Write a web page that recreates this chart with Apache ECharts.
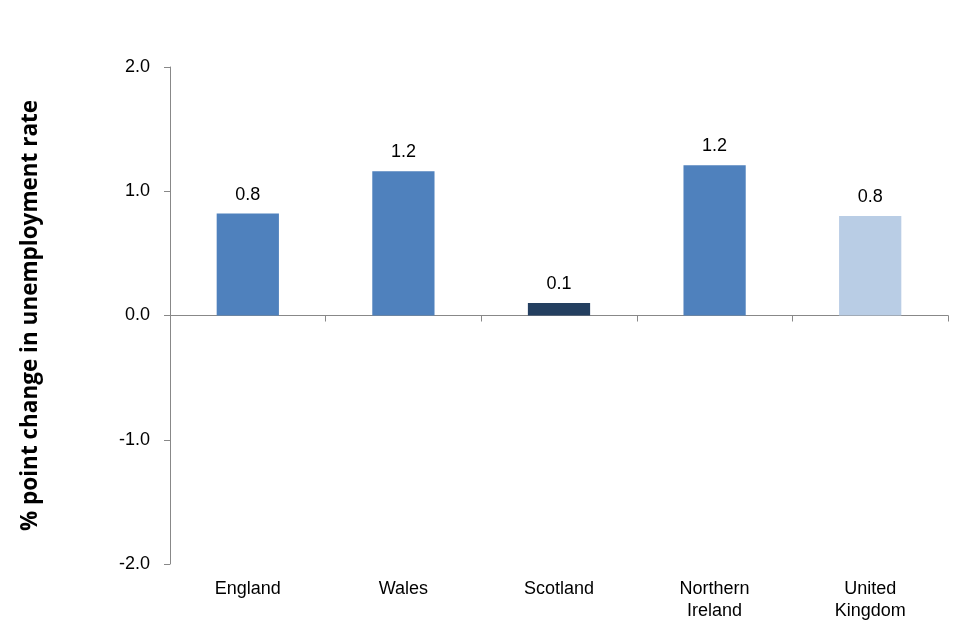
<!DOCTYPE html>
<html><head><meta charset="utf-8">
<script src="https://cdn.jsdelivr.net/npm/echarts@6/dist/echarts.min.js"></script>
<style>html,body{margin:0;background:#fff}#c{width:955px;height:632px}</style>
</head><body><div id="c"></div>
<script>
var regions = ['England', 'Wales', 'Scotland', 'Northern\nIreland', 'United\nKingdom'];
var changes = [0.82, 1.16, 0.1, 1.21, 0.8];
var colours = ['#4F81BD', '#4F81BD', '#243F60', '#4F81BD', '#B9CDE5'];
var yTicks = [-2, -1, 0, 1, 2];

var chart = echarts.init(document.getElementById('c'));
var font = 'Liberation Sans, Arial, sans-serif';
chart.setOption({
  animation: false,
  grid: { left: 170, right: 7, top: 67, bottom: 68 },
  xAxis: [{
    type: 'category', data: regions, position: 'bottom',
    axisLine: { onZero: true, lineStyle: { color: '#888' } },
    axisTick: { show: true, length: 6, lineStyle: { color: '#888' } },
    axisLabel: { show: false }
  }, {
    type: 'category', data: regions, position: 'bottom', offset: 0,
    axisLine: { show: false, onZero: false }, axisTick: { show: false },
    axisLabel: { fontFamily: font, fontSize: 18, color: '#000', margin: 14, lineHeight: 22 }
  }],
  yAxis: {
    type: 'value', min: yTicks[0], max: yTicks[yTicks.length - 1], interval: 1,
    name: '% point change in unemployment rate', nameLocation: 'middle', nameGap: 128,
    nameTextStyle: { fontFamily: 'Open Sans, sans-serif', fontWeight: 'bold', fontSize: 22.5, color: '#000' },
    axisLine: { show: true, lineStyle: { color: '#888' } },
    axisTick: { show: true, length: 6, lineStyle: { color: '#888' } },
    splitLine: { show: false },
    axisLabel: { fontFamily: font, fontSize: 18, color: '#000', margin: 20,
      formatter: function (v) { return v.toFixed(1); } }
  },
  series: [{
    type: 'bar', xAxisIndex: 0, barWidth: '40%',
    data: changes.map(function (v, i) { return { value: v, itemStyle: { color: colours[i] } }; }),
    label: { show: true, position: 'top', distance: 10, fontFamily: font, fontSize: 18, color: '#000',
      formatter: function (p) { return p.value.toFixed(1); } }
  }]
});
</script></body></html>
